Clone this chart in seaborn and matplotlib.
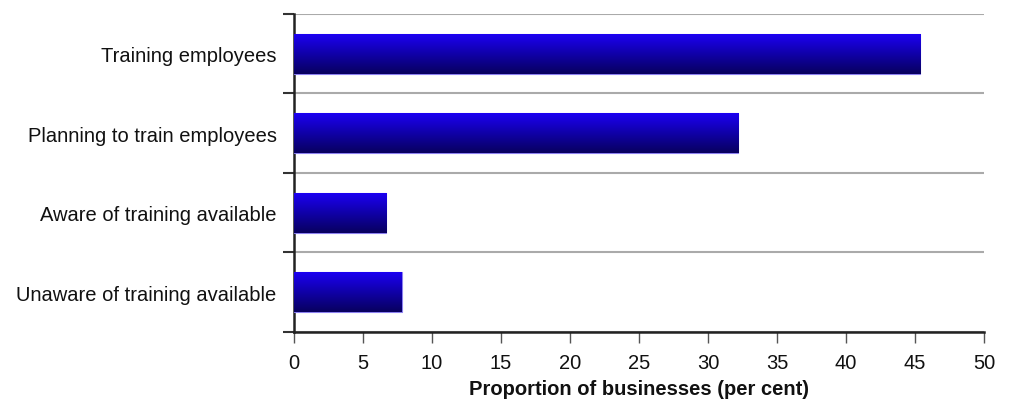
import numpy as np
import pandas as pd
import matplotlib
matplotlib.use("Agg")
import matplotlib.pyplot as plt
from matplotlib.colors import LinearSegmentedColormap
from matplotlib.ticker import FixedLocator
import seaborn as sns

categories = [
    "Training employees",
    "Planning to train employees",
    "Aware of training available",
    "Unaware of training available",
]
values = [45.4, 32.2, 6.7, 7.8]
x_ticks = [0, 5, 10, 15, 20, 25, 30, 35, 40, 45, 50]

sns.set_theme(style="white")
plt.rcParams["font.family"] = ["Liberation Sans", "DejaVu Sans"]
plt.rcParams["text.color"] = "#111111"
plt.rcParams["xtick.color"] = "#111111"
plt.rcParams["ytick.color"] = "#111111"
plt.rcParams["axes.labelcolor"] = "#111111"

df = pd.DataFrame({"category": categories, "value": values})

fig = plt.figure(figsize=(10.12, 4.06), dpi=100)
ax = fig.add_axes([0.2905, 0.180, 0.6818, 0.783])

sns.barplot(data=df, x="value", y="category", orient="h", width=0.5,
            color="#1a00e0", edgecolor="none", ax=ax, zorder=3)

# vertical gradient fill inside each bar: bright blue on top to navy at the bottom
grad_cmap = LinearSegmentedColormap.from_list("bar_grad", ["#1c00f2", "#1000a8", "#08005e"])
grad = np.linspace(0, 1, 256).reshape(-1, 1)
for patch in ax.patches:
    x0, y0 = patch.get_x(), patch.get_y()
    w, h = patch.get_width(), patch.get_height()
    im = ax.imshow(grad, cmap=grad_cmap, aspect="auto",
                   extent=[x0, x0 + w, y0 + h, y0], origin="upper", zorder=4)
    im.set_clip_path(patch)
    patch.set_edgecolor("#8c80f0")
    patch.set_linewidth(0.8)

ax.set_xlim(0, 50)
ax.set_ylim(len(categories) - 0.5, -0.5)
ax.set_xticks(x_ticks)
ax.set_xticklabels([str(t) for t in x_ticks], fontsize=14.5)
ax.set_yticks(range(len(categories)))
ax.set_yticklabels(categories, fontsize=14.5)
ax.yaxis.set_minor_locator(FixedLocator(np.arange(-0.5, len(categories), 1.0)))

ax.tick_params(axis="y", which="major", length=0, pad=12.5)
ax.tick_params(axis="y", which="minor", left=True, length=8, width=1.5, color="#333333")
ax.tick_params(axis="x", which="major", bottom=True, length=8, width=1.0, color="#555555", pad=7)

ax.grid(False)
ax.grid(True, axis="y", which="minor", color="#aaaaaa", linewidth=1.5, zorder=0)

for side in ["top", "right"]:
    ax.spines[side].set_visible(False)
for side in ["left", "bottom"]:
    ax.spines[side].set_color("#222222")
    ax.spines[side].set_linewidth(1.8)

ax.set_ylabel("")
ax.set_xlabel("Proportion of businesses (per cent)", fontsize=14.5, fontweight="bold", labelpad=5)

fig.savefig("out.png", dpi=100, facecolor="white")
